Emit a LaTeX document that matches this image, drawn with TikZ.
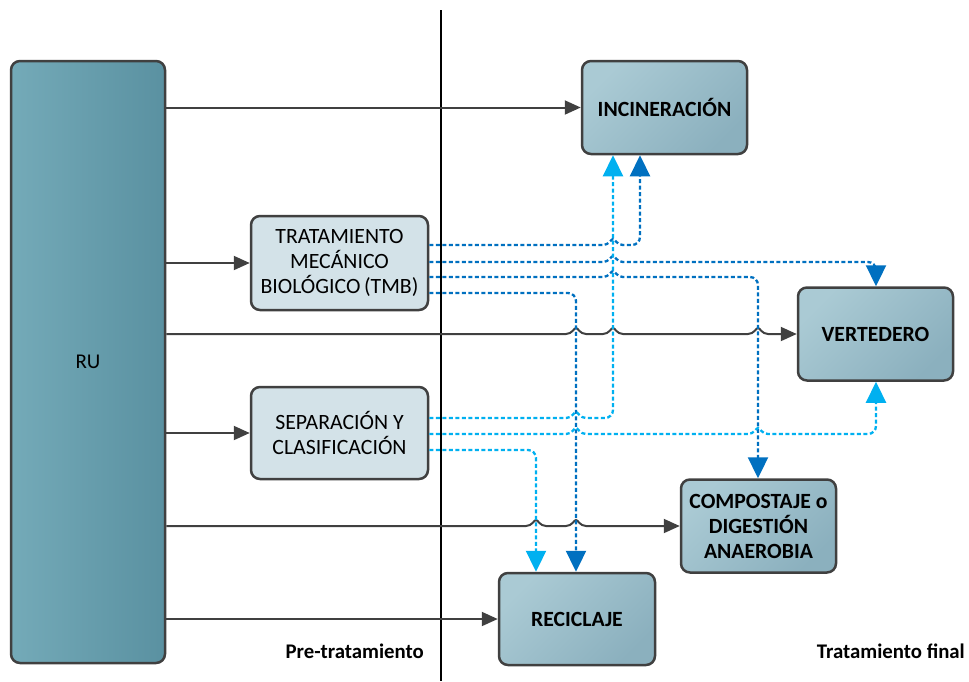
\documentclass[tikz,border=0pt]{standalone}
\usepackage{fontspec}
\setmainfont{Carlito}
\usetikzlibrary{arrows.meta}

\definecolor{edge}{HTML}{404040}
\definecolor{dkblue}{HTML}{0070C0}
\definecolor{ltblue}{HTML}{00B0F0}
\definecolor{rulight}{HTML}{74AAB8}
\definecolor{rudark}{HTML}{5A91A1}
\definecolor{outlight}{HTML}{AACAD4}
\definecolor{outdark}{HTML}{8BB0BE}
\definecolor{procfill}{HTML}{D3E2E8}

\begin{document}
\begin{tikzpicture}[x=1pt,y=-1pt,
  box/.style={draw=edge, line width=2.5pt, rounded corners=9pt, align=center,
    inner sep=0pt, text=black},
  source/.style={box, left color=rulight, right color=rudark,
    font=\fontsize{21}{25}\selectfont},
  process/.style={box, fill=procfill, font=\fontsize{21.8}{25}\selectfont},
  outlet/.style={box, top color=outlight, bottom color=outdark, shading angle=45,
    font=\bfseries\fontsize{21.7}{25}\selectfont},
  flow/.style={draw=edge, line width=2pt, -{Triangle[length=16pt,width=14pt]}},
  dflow/.style={line width=2.3pt, dash pattern=on 4pt off 2.5pt,
    -{Triangle[length=21pt,width=20pt]}},
  dk/.style={dflow, draw=dkblue},
  lt/.style={dflow, draw=ltblue},
  caption/.style={font=\bfseries\fontsize{20.8}{24}\selectfont, anchor=base east, inner sep=0pt},
  % small bump where a line jumps over a crossing line
  hop/.style args={#1/#2}{insert path={-- ({#1-10},#2)
    .. controls ({#1-4},#2) and ({#1-2},{#2-6}) .. (#1,{#2-6})
    .. controls ({#1+2},{#2-6}) and ({#1+4},#2) .. ({#1+10},#2)}}
]
\useasboundingbox (0,0) rectangle (969,681);

% divider between the two stages
\draw[line width=2pt] (441,10) coordinate (dtop) -- (441,681) coordinate (dbot);

% boxes
\node[source, minimum width=154pt, minimum height=602pt] (ru) at (88,362) {RU};
\node[outlet, minimum width=165pt, minimum height=93pt] (inc) at (664.5,107.5) {INCINERACIÓN};
\node[process, minimum width=177pt, minimum height=94pt] (tmb) at (339.5,263) {TRATAMIENTO\\MECÁNICO\\BIOLÓGICO\,(TMB)};
\node[outlet, minimum width=155pt, minimum height=93pt] (vert) at (875.5,334) {VERTEDERO};
\node[process, minimum width=177pt, minimum height=92pt] (sep) at (339.5,433) {SEPARACIÓN Y\\CLASIFICACIÓN};
\node[outlet, minimum width=155pt, minimum height=93pt] (comp) at (758.5,526) {COMPOSTAJE o\\DIGESTIÓN\\ANAEROBIA};
\node[outlet, minimum width=156pt, minimum height=92pt] (reci) at (577,619) {RECICLAJE};

% stage captions
\node[caption] (pre) at (424,658) {Pre-tratamiento};
\node[caption] (fin) at (965,658) {Tratamiento final};

% direct flows from RU
\draw[flow] (ru.east |- inc) -- (inc.west);
\draw[flow] (ru.east |- tmb) -- (tmb.west);
\draw[flow] (ru.east |- vert) [hop=576/334] [hop=613/334] [hop=758/334] -- (vert.west);
\draw[flow] (ru.east |- sep) -- (sep.west);
\draw[flow] (ru.east |- comp) [hop=536/526] [hop=576/526] -- (comp.west);
\draw[flow] (ru.east |- reci) -- (reci.west);

% outputs of TMB
\draw[dk] (tmb.east |- 0,245) [hop=613/245] [rounded corners=8pt] -- (640,245) -- (640,0 |- inc.south);
\draw[dk] (tmb.east |- 0,262) [hop=613/262] [rounded corners=8pt] -- (876,262) -- (876,0 |- vert.north);
\draw[dk] (tmb.east |- 0,277) [hop=613/277] [rounded corners=8pt] -- (758,277) -- (758,0 |- comp.north);
\draw[dk] (tmb.east |- 0,293) [rounded corners=8pt] -- (576,293) -- (576,0 |- reci.north);

% outputs of the separation stage
\draw[lt] (sep.east |- 0,418) [hop=576/418] [rounded corners=8pt] -- (613,418) -- (613,0 |- inc.south);
\draw[lt] (sep.east |- 0,434) [hop=576/434] [hop=758/434] [rounded corners=8pt] -- (876,434) -- (876,0 |- vert.south);
\draw[lt] (sep.east |- 0,450) [rounded corners=8pt] -- (536,450) -- (536,0 |- reci.north);
\end{tikzpicture}
\end{document}
